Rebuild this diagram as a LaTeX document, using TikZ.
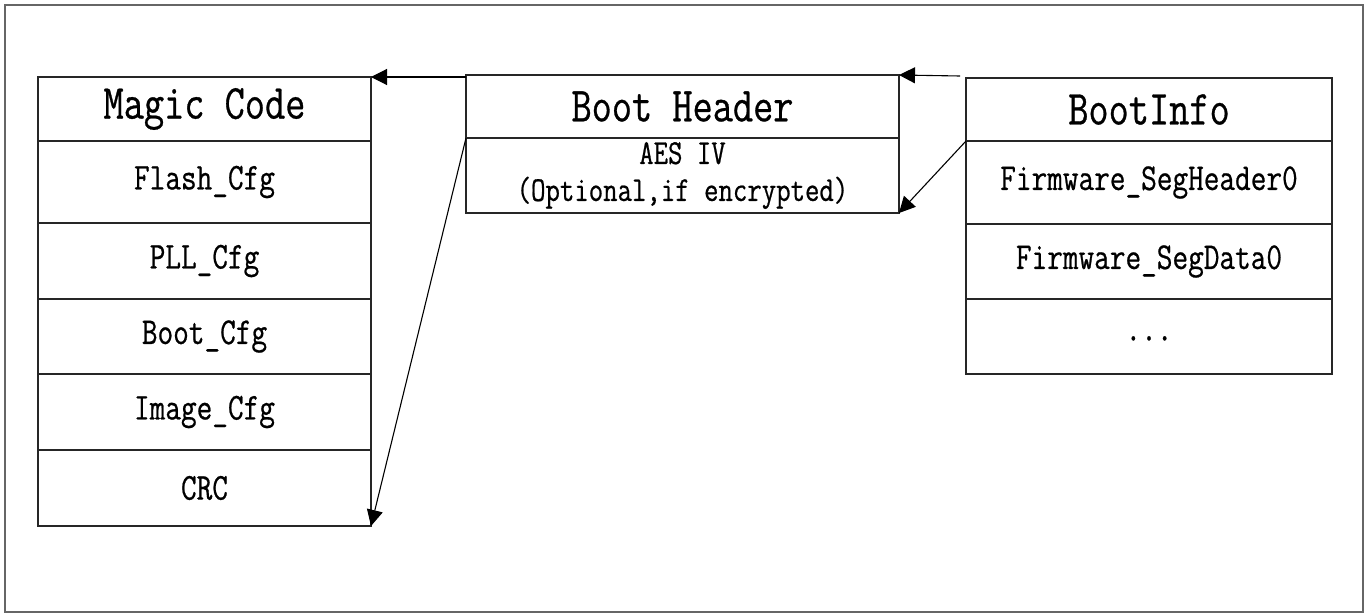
\documentclass[tikz,border=0pt]{standalone}
\usepackage{fontspec}
\usetikzlibrary{arrows.meta}
\newfontfamily\cnf{Latin Modern Mono}[FakeStretch=0.8,FakeBold=0.6]
\tikzset{
  cell/.style={draw=black!85, line width=1.3pt, inner sep=0pt, outer sep=0pt, anchor=north west, align=center, font=\cnf\fontsize{38}{40}\selectfont},
  titlecell/.style={cell, font=\cnf\fontsize{49}{51}\selectfont},
  link/.style={draw=black, line width=1.1pt, -{Triangle[length=16pt,width=16pt]}},
}
\begin{document}
\begin{tikzpicture}[x=1pt,y=-1pt]
\useasboundingbox (0,0) rectangle (1368,613);
\draw[draw=black!60, line width=1.3pt] (5,5) rectangle (1363,612);
% Magic Code column
\node[titlecell, minimum width=333pt, minimum height=64pt] (mc0) at (38,77) {Magic Code};
\node[cell, minimum width=333pt, minimum height=82pt] (mc1) at (38,141) {Flash\_Cfg};
\node[cell, minimum width=333pt, minimum height=76pt] (mc2) at (38,223) {PLL\_Cfg};
\node[cell, minimum width=333pt, minimum height=75pt] (mc3) at (38,299) {Boot\_Cfg};
\node[cell, minimum width=333pt, minimum height=76pt] (mc4) at (38,374) {Image\_Cfg};
\node[cell, minimum width=333pt, minimum height=76pt] (mc5) at (38,450) {CRC};
% Boot Header column
\node[titlecell, minimum width=433pt, minimum height=63pt] (bh0) at (466,75) {Boot Header};
\node[cell, minimum width=433pt, minimum height=75pt, font=\cnf\fontsize{35}{37}\selectfont] (bh1) at (466,138) {AES IV\\(Optional,if encrypted)};
% BootInfo column
\node[titlecell, minimum width=366pt, minimum height=63pt] (bi0) at (966,78) {BootInfo};
\node[cell, minimum width=366pt, minimum height=83pt] (bi1) at (966,141) {Firmware\_SegHeader0};
\node[cell, minimum width=366pt, minimum height=75pt] (bi2) at (966,224) {Firmware\_SegData0};
\node[cell, minimum width=366pt, minimum height=75pt] (bi3) at (966,299) {\raisebox{-8pt}{...}};
% connectors
\coordinate (bistart) at (960,76);
\coordinate (bhstart) at (466,77);
\coordinate (mctop) at (371,77);
\draw[link] (bistart) -- (bh0.north east);
\draw[link] (bi1.north west) -- (bh1.south east);
\draw[link] (bhstart) -- (mctop);
\draw[link] (bh1.north west) -- (mc5.south east);
\end{tikzpicture}
\end{document}
